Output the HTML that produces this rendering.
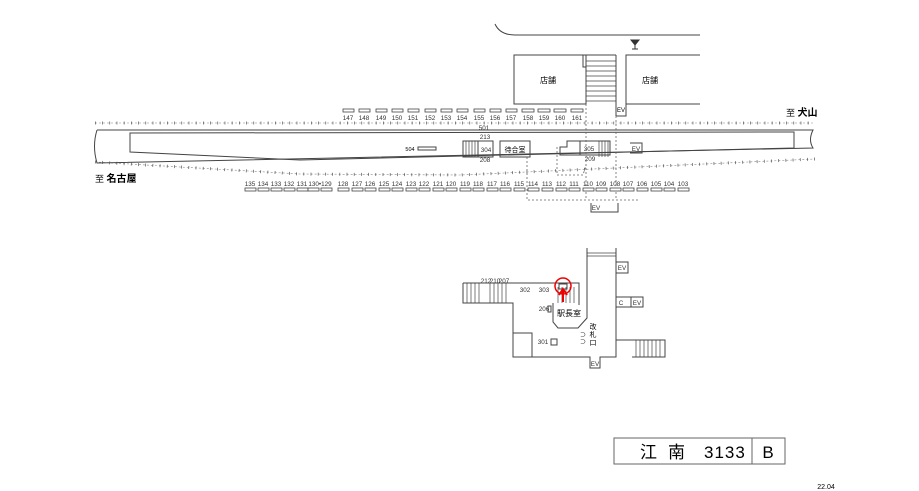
<!DOCTYPE html>
<html><head><meta charset="utf-8"><style>
html,body{margin:0;padding:0;background:#fff;}
svg{display:block;font-family:"Liberation Sans","Noto Sans CJK JP",sans-serif;}
.n{font-size:6.3px;fill:#333;text-anchor:middle;}
.l{stroke:#444;stroke-width:1;fill:none;}
.d{stroke:#666;stroke-width:.8;fill:none;stroke-dasharray:2,2;}
.t{stroke:#555;stroke-width:3;fill:none;stroke-dasharray:.7,6.5;}
.b{stroke:#444;stroke-width:.8;fill:#fff;}
</style></head><body>
<svg width="919" height="491" viewBox="0 0 919 491">
<path class="l" d="M495,24 Q500,35 515,35 L700,35"/>
<path d="M631,40 L639,40 L635,45 Z M635,45 L635,49 M632,49 L638,49" fill="#333" stroke="#333" stroke-width="1"/>
<rect class="l" x="514" y="55" width="72" height="49"/>
<text x="548" y="83" font-size="8" text-anchor="middle">店舗</text>
<rect class="l" x="583" y="55" width="3" height="12"/>
<g stroke="#444" stroke-width=".7">
<line x1="586" y1="61" x2="616" y2="61"/><line x1="586" y1="66" x2="616" y2="66"/><line x1="586" y1="71" x2="616" y2="71"/><line x1="586" y1="76" x2="616" y2="76"/><line x1="586" y1="81" x2="616" y2="81"/><line x1="586" y1="86" x2="616" y2="86"/><line x1="586" y1="91" x2="616" y2="91"/><line x1="586" y1="96" x2="616" y2="96"/><line x1="586" y1="101" x2="616" y2="101"/>
</g>
<line class="l" x1="586" y1="55" x2="616" y2="55"/>
<line class="l" x1="616" y1="55" x2="616" y2="116"/>
<path class="l" d="M700,55 L626,55 L626,116 L616,116 M626,104 L700,104"/>
<text x="621" y="112" font-size="6" text-anchor="middle">EV</text>
<text x="650" y="83" font-size="8" text-anchor="middle">店舗</text>
<text x="786" y="116" font-size="9">至 <tspan font-size="10" font-weight="bold">犬山</tspan></text>
<text x="95" y="182" font-size="9">至 <tspan font-size="10" font-weight="bold">名古屋</tspan></text>
<line x1="95" y1="123" x2="815" y2="123" stroke="#888" stroke-width=".6" stroke-dasharray="2,2"/>
<line class="t" x1="95" y1="123" x2="815" y2="123"/>
<polyline points="95,162 300,174 460,175 815,159" fill="none" stroke="#888" stroke-width=".6" stroke-dasharray="2,2"/>
<polyline class="t" points="95,162 300,174 460,175 815,159"/>
<path class="l" d="M97,130 L813,130 Q808,140 813,148 L97,163 Q92,146 97,130"/>
<path class="l" d="M130,133 L794,132 L794,148 L300,160 L130,152 Z"/>
<text x="410" y="151" font-size="5.5" text-anchor="middle">504</text>
<rect class="l" x="418" y="147" width="18" height="3"/>
<text x="484" y="130" class="n">501</text>
<rect class="l" x="463" y="141" width="15" height="16"/>
<g stroke="#444" stroke-width=".7"><line x1="466" y1="141" x2="466" y2="157"/><line x1="469" y1="141" x2="469" y2="157"/><line x1="472" y1="141" x2="472" y2="157"/><line x1="475" y1="141" x2="475" y2="157"/>
<line x1="599" y1="141" x2="599" y2="157"/><line x1="602" y1="141" x2="602" y2="157"/><line x1="605" y1="141" x2="605" y2="157"/><line x1="608" y1="141" x2="608" y2="157"/></g>
<rect class="l" x="478" y="141" width="15" height="16"/>
<text x="485" y="139" class="n">213</text><text x="486" y="152" class="n">304</text><text x="485" y="162" class="n">208</text>
<rect class="l" x="500" y="141" width="30" height="16"/>
<text x="515" y="152" font-size="7" text-anchor="middle">待合室</text>
<path class="l" d="M567,141 L580,141 L580,155 L560,155 L560,147 L567,147 Z"/>
<rect class="l" x="580" y="141" width="30" height="14"/>
<text x="589" y="151" class="n">305</text><text x="590" y="161" class="n">209</text>
<path class="l" d="M630,143 L642,143 L642,153 L630,153"/>
<text x="636" y="151" class="n">EV</text>
<line class="d" x1="586" y1="104" x2="586" y2="200"/>
<line class="d" x1="616" y1="116" x2="616" y2="200"/>
<polyline class="d" points="527,157 527,200 640,200"/>
<polyline class="d" points="557,147 557,175 583,175 586,165"/>
<path class="l" d="M591,203 L591,212 L618,212 L618,203"/>
<text x="596" y="210" class="n">EV</text>
<g class="n">
<text x="348" y="120">147</text><text x="364" y="120">148</text><text x="381" y="120">149</text><text x="397" y="120">150</text><text x="413" y="120">151</text><text x="430" y="120">152</text><text x="446" y="120">153</text><text x="462" y="120">154</text><text x="479" y="120">155</text><text x="495" y="120">156</text><text x="511" y="120">157</text><text x="528" y="120">158</text><text x="544" y="120">159</text><text x="560" y="120">160</text><text x="577" y="120">161</text>
</g>
<g class="b">
<rect x="343" y="109" width="11" height="3"/><rect x="359" y="109" width="11" height="3"/><rect x="376" y="109" width="11" height="3"/><rect x="392" y="109" width="11" height="3"/><rect x="408" y="109" width="11" height="3"/><rect x="425" y="109" width="11" height="3"/><rect x="441" y="109" width="11" height="3"/><rect x="457" y="109" width="11" height="3"/><rect x="474" y="109" width="11" height="3"/><rect x="490" y="109" width="11" height="3"/><rect x="506" y="109" width="11" height="3"/><rect x="522" y="109" width="12" height="3"/><rect x="538" y="109" width="12" height="3"/><rect x="554" y="109" width="12" height="3"/><rect x="571" y="109" width="12" height="3"/>
</g>
<g class="n">
<text x="250" y="186">135</text><text x="263" y="186">134</text><text x="276" y="186">133</text><text x="289" y="186">132</text><text x="302" y="186">131</text><text x="320" y="186">130•129</text><text x="343" y="186">128</text><text x="357" y="186">127</text><text x="370" y="186">126</text><text x="384" y="186">125</text><text x="397" y="186">124</text><text x="411" y="186">123</text><text x="424" y="186">122</text><text x="438" y="186">121</text><text x="451" y="186">120</text><text x="465" y="186">119</text><text x="478" y="186">118</text><text x="492" y="186">117</text><text x="505" y="186">116</text><text x="519" y="186">115</text><text x="533" y="186">114</text><text x="547" y="186">113</text><text x="561" y="186">112</text><text x="574" y="186">111</text><text x="588" y="186">110</text><text x="601" y="186">109</text><text x="615" y="186">108</text><text x="628" y="186">107</text><text x="642" y="186">106</text><text x="656" y="186">105</text><text x="669" y="186">104</text><text x="683" y="186">103</text>
</g>
<g class="b">
<rect x="245" y="188" width="11" height="3"/><rect x="258" y="188" width="11" height="3"/><rect x="271" y="188" width="11" height="3"/><rect x="284" y="188" width="11" height="3"/><rect x="297" y="188" width="11" height="3"/><rect x="308" y="188" width="11" height="3"/><rect x="321" y="188" width="11" height="3"/><rect x="338" y="188" width="11" height="3"/><rect x="352" y="188" width="11" height="3"/><rect x="365" y="188" width="11" height="3"/><rect x="379" y="188" width="11" height="3"/><rect x="392" y="188" width="11" height="3"/><rect x="406" y="188" width="11" height="3"/><rect x="419" y="188" width="11" height="3"/><rect x="433" y="188" width="11" height="3"/><rect x="446" y="188" width="11" height="3"/><rect x="460" y="188" width="11" height="3"/><rect x="473" y="188" width="11" height="3"/><rect x="487" y="188" width="11" height="3"/><rect x="500" y="188" width="11" height="3"/><rect x="514" y="188" width="11" height="3"/><rect x="528" y="188" width="11" height="3"/><rect x="542" y="188" width="11" height="3"/><rect x="556" y="188" width="11" height="3"/><rect x="569" y="188" width="11" height="3"/><rect x="583" y="188" width="11" height="3"/><rect x="596" y="188" width="11" height="3"/><rect x="610" y="188" width="11" height="3"/><rect x="623" y="188" width="11" height="3"/><rect x="637" y="188" width="11" height="3"/><rect x="651" y="188" width="11" height="3"/><rect x="664" y="188" width="11" height="3"/><rect x="678" y="188" width="11" height="3"/>
</g>
<path class="l" d="M463,283 L579,283 L579,305 M463,283 L463,303 L513,303 L513,357 L590,357 L590,368 L600,368 L600,357 L616,357 L616,340 L665,340 L665,357 L632,357 M616,340 L616,248 M587,248 L587,318 L578,328 L558,328 L553,322 L553,303"/>
<rect class="l" x="513" y="333" width="19" height="24"/>
<g stroke="#444" stroke-width=".7">
<line x1="467" y1="283" x2="467" y2="303"/><line x1="471" y1="283" x2="471" y2="303"/><line x1="475" y1="283" x2="475" y2="303"/><line x1="479" y1="283" x2="479" y2="303"/><line x1="490" y1="283" x2="490" y2="303"/><line x1="494" y1="283" x2="494" y2="303"/><line x1="498" y1="283" x2="498" y2="303"/><line x1="502" y1="283" x2="502" y2="303"/><line x1="506" y1="283" x2="506" y2="303"/>
<line x1="558" y1="287" x2="558" y2="303"/><line x1="562" y1="287" x2="562" y2="303"/><line x1="566" y1="287" x2="566" y2="303"/><line x1="570" y1="287" x2="570" y2="303"/><line x1="574" y1="287" x2="574" y2="303"/>
<line x1="587" y1="253" x2="616" y2="253"/><line x1="587" y1="256" x2="616" y2="256"/>
<line x1="636" y1="340" x2="636" y2="357"/><line x1="640" y1="340" x2="640" y2="357"/><line x1="644" y1="340" x2="644" y2="357"/><line x1="648" y1="340" x2="648" y2="357"/><line x1="652" y1="340" x2="652" y2="357"/><line x1="656" y1="340" x2="656" y2="357"/><line x1="660" y1="340" x2="660" y2="357"/>
</g>
<path class="l" d="M616,262 L628,262 L628,273 L616,273"/><text x="622" y="270" class="n">EV</text>
<path class="l" d="M616,297 L631,297 L631,307 L616,307 M631,297 L643,297 L643,307 L631,307"/><text x="637" y="305" class="n">EV</text>
<text x="621" y="305" class="n">C</text>
<text x="595" y="366" class="n">EV</text>
<g class="n"><text x="486" y="283">212</text><text x="495" y="283">210</text><text x="504" y="283">207</text><text x="525" y="292">302</text><text x="544" y="292">303</text><text x="544" y="311">206</text><text x="543" y="344">301</text></g>
<rect class="l" x="551" y="339" width="6" height="6"/>
<rect class="l" x="548" y="306" width="3" height="6"/>
<text x="569" y="316" font-size="8" text-anchor="middle">駅長室</text>
<text x="593" y="329" font-size="7" text-anchor="middle">改</text><text x="593" y="337" font-size="7" text-anchor="middle">札</text><text x="593" y="345" font-size="7" text-anchor="middle">口</text>
<text x="583" y="337" font-size="6" text-anchor="middle">⊃</text><text x="583" y="344" font-size="6" text-anchor="middle">⊃</text>
<rect class="l" x="559" y="284" width="8" height="5"/>
<circle cx="563" cy="286" r="8" fill="none" stroke="#e00" stroke-width="1.5"/>
<line x1="563" y1="290" x2="563" y2="302" stroke="#e00" stroke-width="2"/>
<path d="M559,295 L563,289 L567,295" fill="none" stroke="#e00" stroke-width="2"/>
<rect x="614" y="438" width="171" height="26" fill="none" stroke="#666" stroke-width="1"/>
<line x1="752" y1="438" x2="752" y2="464" stroke="#666"/>
<text x="640" y="458" font-size="17">江</text><text x="668" y="458" font-size="17">南</text>
<text x="704" y="458" font-size="17" letter-spacing="1">3133</text>
<text x="768" y="458" font-size="17" text-anchor="middle">B</text>
<text x="826" y="489" font-size="7" text-anchor="middle">22.04</text>
</svg>
</body></html>
